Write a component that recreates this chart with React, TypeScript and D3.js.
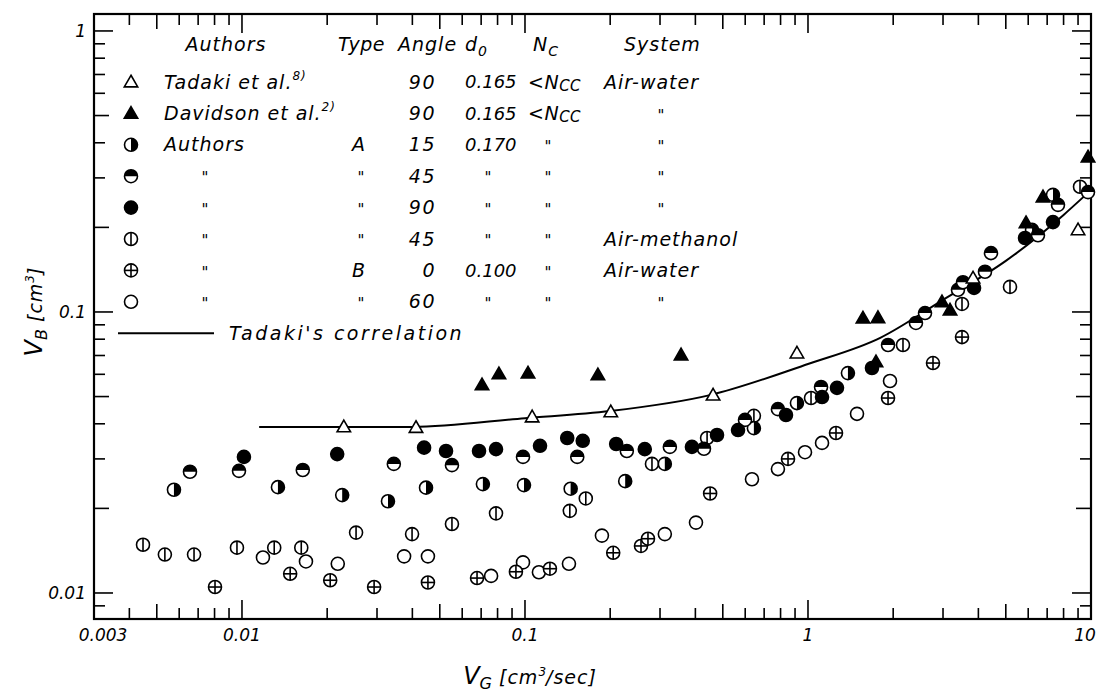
import React, { useEffect, useRef } from 'react'
import * as d3 from 'd3'

type Pt = [number, number] // [V_G cm3/sec, V_B cm3]

// Tadaki et al. (open triangles)
const tadakiData: Pt[] = [
  [0.0229, 0.039], [0.0412, 0.0388], [0.106, 0.0423], [0.201, 0.0441],
  [0.462, 0.0506], [0.914, 0.0714], [3.83, 0.132], [9.0, 0.196],
]

// Davidson et al. (filled triangles)
const davidsonData: Pt[] = [
  [0.0705, 0.055], [0.0809, 0.0602], [0.1025, 0.0606], [0.181, 0.0597],
  [0.356, 0.0703], [1.564, 0.0951], [1.767, 0.0954], [1.739, 0.0664],
  [2.975, 0.1086], [3.176, 0.1016], [5.893, 0.2077], [6.767, 0.2566], [9.76, 0.356],
]

// Authors, type A, 15 deg
const authorsA15: Pt[] = [
  [0.00575, 0.0233], [0.0134, 0.0238], [0.0226, 0.0223], [0.0328, 0.0212],
  [0.0447, 0.0237], [0.071, 0.0244], [0.0992, 0.0242], [0.145, 0.0235],
  [0.226, 0.025], [0.312, 0.0288], [0.644, 0.0386], [0.914, 0.0474],
  [1.384, 0.0606], [6.19, 0.196], [7.34, 0.261],
]

// Authors, type A, 45 deg
const authorsA45: Pt[] = [
  [0.00655, 0.027], [0.00976, 0.0272], [0.0164, 0.0274], [0.0344, 0.0288],
  [0.0552, 0.0285], [0.0984, 0.0305], [0.153, 0.0305], [0.229, 0.032],
  [0.325, 0.0331], [0.429, 0.0326], [0.599, 0.0413], [0.783, 0.0451],
  [1.112, 0.0541], [1.918, 0.0763], [2.407, 0.0914], [2.591, 0.0991],
  [3.388, 0.1199], [3.529, 0.1276], [4.221, 0.139], [4.432, 0.162],
  [6.496, 0.1875], [7.645, 0.2405], [9.76, 0.267],
]

// Authors, type A, 90 deg
const authorsA90: Pt[] = [
  [0.01016, 0.0305], [0.0217, 0.0312], [0.044, 0.0329], [0.0526, 0.032],
  [0.0688, 0.032], [0.079, 0.0325], [0.113, 0.0334], [0.141, 0.0356],
  [0.16, 0.0348], [0.21, 0.0339], [0.265, 0.0325], [0.389, 0.0331],
  [0.477, 0.0365], [0.566, 0.038], [0.836, 0.043], [1.121, 0.0498],
  [1.266, 0.0537], [1.683, 0.0632], [3.861, 0.1218], [5.846, 0.1833], [7.34, 0.2088],
]

// Authors, type A, 45 deg, air-methanol
const authorsA45Methanol: Pt[] = [
  [0.00447, 0.01485], [0.00534, 0.0137], [0.00677, 0.0137], [0.0096, 0.0145],
  [0.013, 0.0145], [0.0162, 0.0145], [0.0253, 0.0164], [0.0399, 0.0162],
  [0.0552, 0.0176], [0.079, 0.0192], [0.144, 0.0196], [0.164, 0.0217],
  [0.281, 0.0288], [0.44, 0.0356], [0.644, 0.0427], [1.025, 0.0494],
  [2.166, 0.0763], [3.501, 0.1068], [5.173, 0.1228], [9.145, 0.279],
]

// Authors, type B, 0 deg
const authorsB0: Pt[] = [
  [0.00803, 0.0105], [0.0148, 0.0117], [0.0205, 0.0111], [0.0293, 0.0105],
  [0.0454, 0.0109], [0.0677, 0.0113], [0.0929, 0.0119], [0.1225, 0.0122],
  [0.205, 0.0139], [0.257, 0.0147], [0.272, 0.0156], [0.451, 0.0226],
  [0.85, 0.03], [1.256, 0.0371], [1.918, 0.0494], [2.765, 0.0658], [3.501, 0.0814],
]

// Authors, type B, 60 deg
const authorsB60: Pt[] = [
  [0.01186, 0.01337], [0.01683, 0.01295], [0.0218, 0.0127], [0.0374, 0.0135],
  [0.0454, 0.0135], [0.0759, 0.0115], [0.0984, 0.01285], [0.112, 0.01185],
  [0.143, 0.0127], [0.187, 0.016], [0.312, 0.0162], [0.402, 0.0178],
  [0.634, 0.0254], [0.783, 0.0276], [0.976, 0.0317], [1.121, 0.0342],
  [1.49, 0.0434], [1.949, 0.0568],
]

// Tadaki's correlation
const tadakiCorrelation: Pt[] = [
  [0.0115, 0.039], [0.023, 0.039], [0.04, 0.039], [0.1, 0.0419], [0.2, 0.0444],
  [0.45, 0.0506], [1.0, 0.0653], [1.8, 0.0809], [3.0, 0.1104], [5.0, 0.152],
  [8.0, 0.2215], [9.5, 0.259],
]

const xLabelValues = [0.003, 0.01, 0.1, 1, 10]
const xLabelTexts = ['0.003', '0.01', '0.1', '1', '10']
const yLabelValues = [0.01, 0.1, 1]
const yLabelTexts = ['0.01', '0.1', '1']

// legend table
const legendKinds = ['triOpen', 'triFill', 'halfRight', 'halfTop', 'fill', 'vbar', 'cross', 'open']
const legendAuthors = ['Tadaki et al.', 'Davidson et al.', 'Authors', '"', '"', '"', '"', '"']
const legendRefs = ['8)', '2)', '', '', '', '', '', '']
const legendType = ['', '', 'A', '"', '"', '"', 'B', '"']
const legendAngle = ['90', '90', '15', '45', '90', '45', '0', '60']
const legendD0 = ['0.165', '0.165', '0.170', '"', '"', '"', '0.100', '"']
const legendNc = ['<N', '<N', '"', '"', '"', '"', '"', '"']
const legendSystem = ['Air-water', '"', '"', '"', '"', 'Air-methanol', 'Air-water', '"']

const FONT = '"DejaVu Sans", sans-serif'

export default function App() {
  const svgRef = useRef<SVGSVGElement>(null)
  const width = 1096
  const height = 697

  useEffect(() => {
    document.body.style.margin = '0'
    if (!svgRef.current) return
    const svg = d3.select(svgRef.current)
    svg.selectAll('*').remove()

    const margin = { top: 14, right: 5, bottom: 78, left: 94 }
    const x = d3.scaleLog().domain([0.003, 10]).range([margin.left, width - margin.right])
    const y = d3.scaleLog().domain([0.00808, 1.149]).range([height - margin.bottom, margin.top])
    const [x0, x1] = x.range()
    const [y0, y1] = y.range()

    const g = svg.append('g')

    // ticks (inward on all four sides)
    const tickLen = (v: number, axis: 'x' | 'y') => {
      const m = Math.round(v / Math.pow(10, Math.floor(Math.log10(v) + 1e-9)))
      if (m === 1) return 19
      if (m === 5 || (axis === 'y' && m === 2)) return 15
      return 11
    }
    x.ticks().filter(v => v > 0.003 * 1.01 && v < 10 * 0.99).forEach(v => {
      const len = tickLen(v, 'x')
      g.append('line').attr('x1', x(v)).attr('x2', x(v)).attr('y1', y0).attr('y2', y0 - len)
        .attr('stroke', '#000').attr('stroke-width', 1.6)
      g.append('line').attr('x1', x(v)).attr('x2', x(v)).attr('y1', y1).attr('y2', y1 + len)
        .attr('stroke', '#000').attr('stroke-width', 1.6)
    })
    y.ticks().filter(v => v > 0.00808 && v < 1.149).forEach(v => {
      const len = tickLen(v, 'y')
      g.append('line').attr('x1', x0).attr('x2', x0 + len).attr('y1', y(v)).attr('y2', y(v))
        .attr('stroke', '#000').attr('stroke-width', 1.6)
      g.append('line').attr('x1', x1).attr('x2', x1 - len).attr('y1', y(v)).attr('y2', y(v))
        .attr('stroke', '#000').attr('stroke-width', 1.6)
    })

    // frame
    g.append('rect').attr('x', x0).attr('y', y1).attr('width', x1 - x0).attr('height', y0 - y1)
      .attr('fill', 'none').attr('stroke', '#000').attr('stroke-width', 2.2)

    // tick labels
    const xShift = [9, 0, 0, 0, -6]
    xLabelValues.forEach((v, i) => {
      g.append('text').attr('x', x(v) + xShift[i]).attr('y', y0 + 22)
        .attr('text-anchor', 'middle').attr('font-family', FONT).attr('font-style', 'italic')
        .attr('font-size', 17).attr('fill', '#000').text(xLabelTexts[i])
    })
    yLabelValues.forEach((v, i) => {
      g.append('text').attr('x', x0 - 8).attr('y', y(v)).attr('dy', '0.35em')
        .attr('text-anchor', 'end').attr('font-family', FONT).attr('font-style', 'italic')
        .attr('font-size', 17).attr('fill', '#000').text(yLabelTexts[i])
    })

    // axis titles
    const xt = g.append('text').attr('x', 530).attr('y', 684).attr('text-anchor', 'middle')
      .attr('font-family', FONT).attr('font-style', 'italic').attr('fill', '#000')
    xt.append('tspan').attr('font-size', 24).text('V')
    xt.append('tspan').attr('font-size', 16).attr('dy', 5).text('G')
    xt.append('tspan').attr('font-size', 19).attr('dy', -5).attr('letter-spacing', 1).text('  [cm')
    xt.append('tspan').attr('font-size', 12).attr('dy', -8).text('3')
    xt.append('tspan').attr('font-size', 19).attr('dy', 8).attr('letter-spacing', 1).text('/sec]')

    const yt = g.append('text').attr('transform', 'translate(42,312) rotate(-90)')
      .attr('text-anchor', 'middle').attr('font-family', FONT).attr('font-style', 'italic').attr('fill', '#000')
    yt.append('tspan').attr('font-size', 24).text('V')
    yt.append('tspan').attr('font-size', 16).attr('dy', 5).text('B')
    yt.append('tspan').attr('font-size', 19).attr('dy', -5).attr('letter-spacing', 1).text('   [cm')
    yt.append('tspan').attr('font-size', 12).attr('dy', -8).text('3')
    yt.append('tspan').attr('font-size', 19).attr('dy', 8).text(']')

    // marker drawing
    const r = 6.5
    const sw = 1.6
    const triPath = d3.symbol().type(d3.symbolTriangle).size(78)() || ''
    const drawMarker = (parent: d3.Selection<SVGGElement, unknown, null, undefined>, kind: string, cx: number, cy: number) => {
      const m = parent.append('g').attr('transform', `translate(${cx},${cy})`)
      if (kind === 'triOpen' || kind === 'triFill') {
        m.append('path').attr('d', triPath).attr('transform', 'translate(0,1)')
          .attr('fill', kind === 'triFill' ? '#000' : '#fff').attr('stroke', '#000').attr('stroke-width', sw)
        return
      }
      m.append('circle').attr('r', r).attr('fill', kind === 'fill' ? '#000' : '#fff')
      if (kind === 'halfRight') {
        m.append('path').attr('d', `M0,${-r}A${r},${r} 0 0 1 0,${r}Z`).attr('fill', '#000')
      }
      if (kind === 'halfTop') {
        m.append('path').attr('d', `M${-r},0A${r},${r} 0 0 1 ${r},0Z`).attr('fill', '#000')
      }
      if (kind === 'vbar' || kind === 'cross') {
        m.append('line').attr('x1', 0).attr('x2', 0).attr('y1', -r).attr('y2', r)
          .attr('stroke', '#000').attr('stroke-width', sw)
      }
      if (kind === 'cross') {
        m.append('line').attr('x1', -r).attr('x2', r).attr('y1', 0).attr('y2', 0)
          .attr('stroke', '#000').attr('stroke-width', sw)
      }
      m.append('circle').attr('r', r).attr('fill', 'none').attr('stroke', '#000').attr('stroke-width', sw)
    }

    // Tadaki's correlation
    const line = d3.line<Pt>().x(d => x(d[0])).y(d => y(d[1])).curve(d3.curveMonotoneX)
    g.append('path').datum(tadakiCorrelation).attr('d', line)
      .attr('fill', 'none').attr('stroke', '#000').attr('stroke-width', 2)

    const series: { kind: string, data: Pt[] }[] = [
      { kind: 'open', data: authorsB60 },
      { kind: 'cross', data: authorsB0 },
      { kind: 'vbar', data: authorsA45Methanol },
      { kind: 'halfRight', data: authorsA15 },
      { kind: 'halfTop', data: authorsA45 },
      { kind: 'fill', data: authorsA90 },
      { kind: 'triOpen', data: tadakiData },
      { kind: 'triFill', data: davidsonData },
    ]
    const pts = g.append('g')
    series.forEach(s => s.data.forEach(d => drawMarker(pts, s.kind, x(d[0]), y(d[1]))))

    // legend
    const lg = g.append('g').attr('font-family', FONT).attr('font-style', 'italic').attr('fill', '#000')
    const txt = (tx: number, ty: number, s: string, anchor = 'start', size = 19, ls = 1) =>
      lg.append('text').attr('x', tx).attr('y', ty).attr('dy', '0.35em').attr('text-anchor', anchor)
        .attr('font-size', size).attr('letter-spacing', ls).text(s)
    const ditto = (tx: number, ty: number) => txt(tx, ty + 2, '"', 'middle', 15, 0)

    const hy = 44
    txt(226, hy, 'Authors', 'middle')
    txt(338, hy, 'Type', 'start', 19, 0.5)
    txt(398, hy, 'Angle')
    const d0 = txt(465, hy, 'd')
    d0.append('tspan').attr('font-size', 14).attr('dy', 5).text('0')
    const nc = txt(533, hy, 'N')
    nc.append('tspan').attr('font-size', 14).attr('dy', 5).text('C')
    txt(624, hy, 'System')

    legendKinds.forEach((kind, i) => {
      const ry = 82 + i * 31.4
      drawMarker(lg as any, kind, 131, ry)
      if (legendAuthors[i] === '"') ditto(205, ry)
      else {
        const t = txt(164, ry, legendAuthors[i])
        if (legendRefs[i]) t.append('tspan').attr('font-size', 12).attr('dy', -9).text(legendRefs[i])
      }
      if (legendType[i] === '"') ditto(361, ry)
      else if (legendType[i]) txt(359, ry, legendType[i], 'middle')
      txt(436, ry, legendAngle[i], 'end', 19, 1.5)
      if (legendD0[i] === '"') ditto(488, ry)
      else txt(465, ry, legendD0[i], 'start', 18, 0)
      if (legendNc[i] === '"') ditto(548, ry)
      else {
        const t = txt(528, ry, legendNc[i], 'start', 19, 0.5)
        t.append('tspan').attr('font-size', 15).attr('dy', 2).text('CC')
      }
      if (legendSystem[i] === '"') ditto(661, ry)
      else txt(604, ry, legendSystem[i])
    })
    const ly = 82 + 8 * 31.4
    lg.append('line').attr('x1', 118).attr('x2', 214).attr('y1', ly).attr('y2', ly)
      .attr('stroke', '#000').attr('stroke-width', 2)
    txt(229, ly, "Tadaki's correlation", 'start', 19, 2.5)
  }, [])

  return (
    <svg ref={svgRef} width={width} height={height} style={{ display: 'block', background: '#fff' }} />
  )
}
